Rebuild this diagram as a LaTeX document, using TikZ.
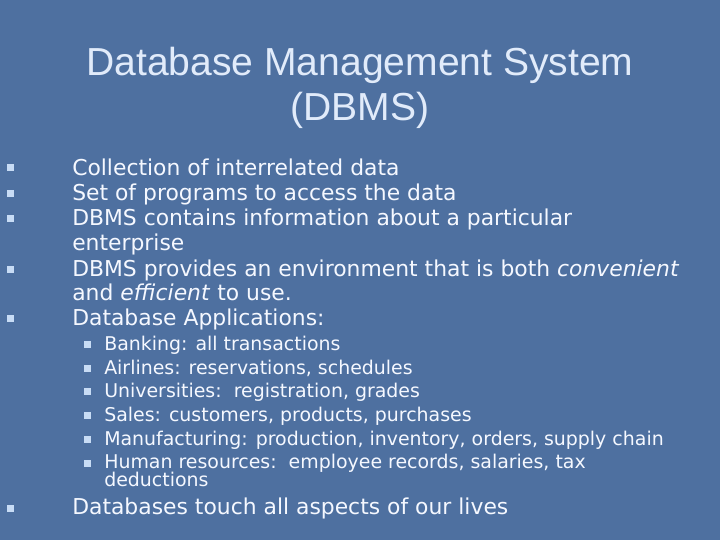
\documentclass[tikz,border=0pt]{standalone}
\usepackage{fontspec}
\setmainfont{DejaVu Sans}
\newfontfamily\titlefont{Liberation Sans}
\usetikzlibrary{positioning}
\definecolor{slidebg}{RGB}{78,112,160}
\definecolor{titlec}{RGB}{225,235,250}
\definecolor{bodyc}{RGB}{245,248,255}
\definecolor{bulc}{RGB}{200,220,245}
\tikzset{
  bul/.style={fill=bulc, minimum size=5.25pt, inner sep=0pt},
  main/.style={anchor=base west, inner sep=0pt, text=bodyc, font=\fontsize{16.4}{18}\selectfont},
  sub/.style={anchor=base west, inner sep=0pt, text=bodyc, font=\fontsize{14.2}{16}\selectfont},
}
\begin{document}
\begin{tikzpicture}[x=0.75pt,y=-0.75pt]
  % background
  \fill[slidebg] (0,0) rectangle (720,540);
  \useasboundingbox (0,0) rectangle (720,540);

  % title
  \node[text=titlec, font=\titlefont\fontsize{29.3}{34}\selectfont, align=center] (title) at (360,88)
    {Database Management System\\(DBMS)};

  % first level
  \foreach \y/\t [count=\i] in {175/Collection of interrelated data,
      200/Set of programs to access the data,
      225/DBMS contains information about a particular,
      250/enterprise,
      276/{DBMS provides an environment that is both \textit{convenient}},
      300/{and \textit{efficient} to use.},
      325/Database Applications:}
    \node[main] (m\i) at (72,\y) {\t};
  \foreach \y [count=\i] in {167,193,218,269,318}
    \node[bul] (b\i) at (10,\y) {};

  % second level
  \foreach \y/\t [count=\i] in {350/Banking: all transactions,
      374/{Airlines: reservations, schedules},
      397/{Universities:\ \ registration, grades},
      421/{Sales: customers, products, purchases},
      445/{Manufacturing: production, inventory, orders, supply chain},
      468/{Human resources:\ \ employee records, salaries, tax},
      486/deductions}
    \node[sub] (s\i) at (104,\y) {\t};
  \foreach \y [count=\i] in {344,368,391,415,439,463}
    \node[bul] (c\i) at (87,\y) {};

  % last
  \node[bul] (blast) at (10,508) {};
  \node[main] (last) at (72,514) {Databases touch all aspects of our lives};
\end{tikzpicture}
\end{document}
